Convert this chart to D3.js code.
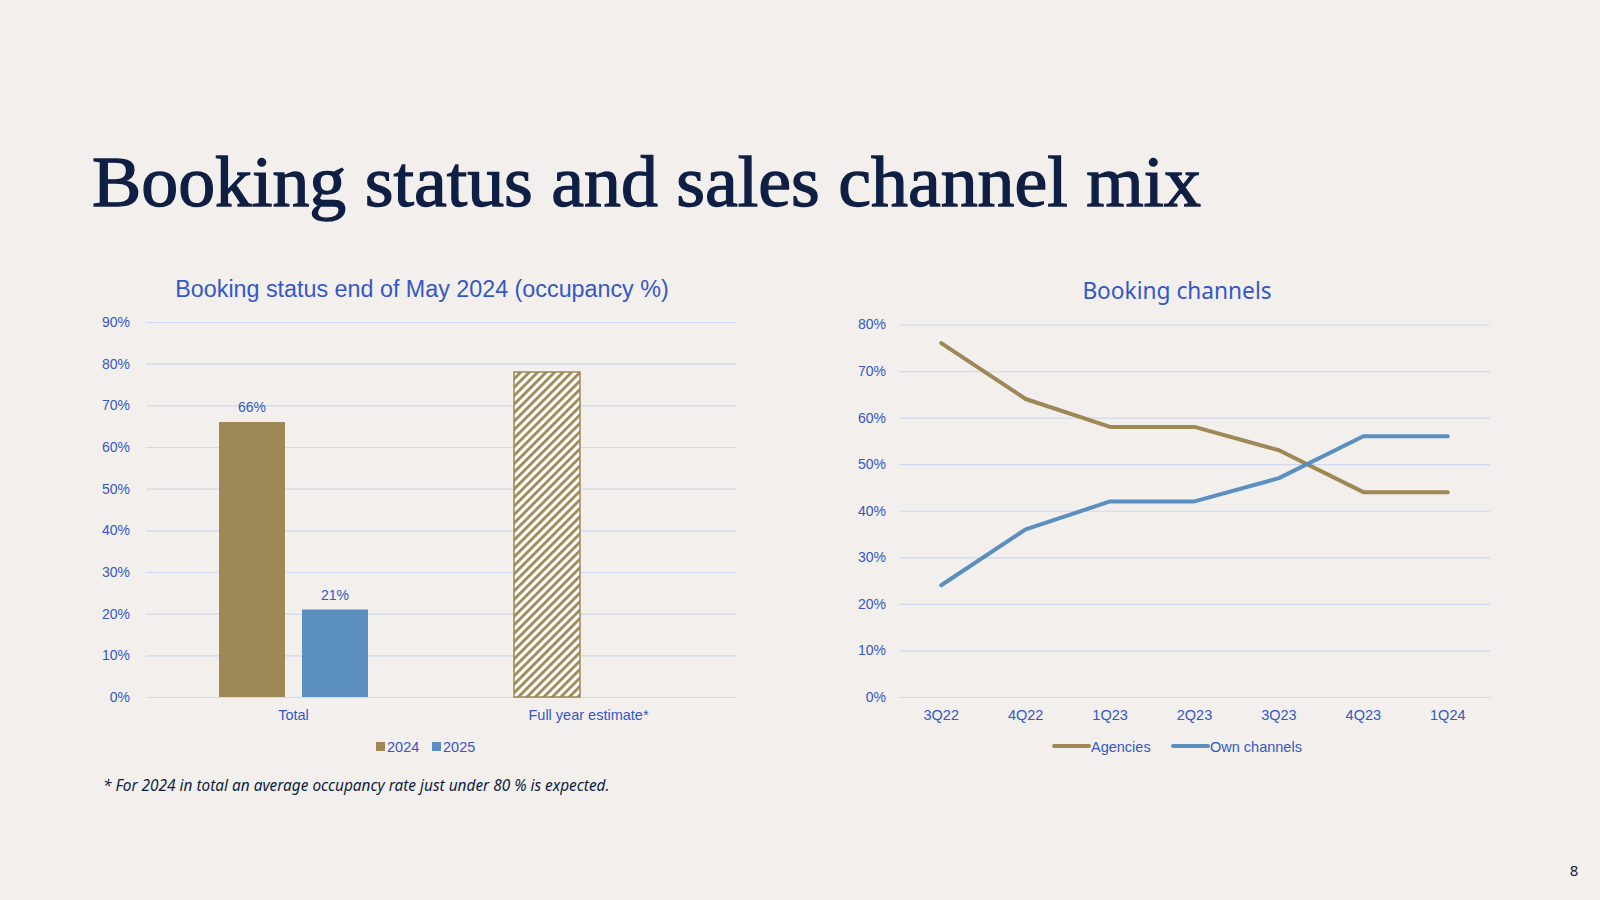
<!DOCTYPE html>
<html>
<head>
<meta charset="utf-8">
<script src="https://cdn.jsdelivr.net/npm/d3@7"></script>
<style>
  html, body { margin: 0; padding: 0; background: #f2efec; }
  svg { display: block; }
</style>
</head>
<body>
<svg id="chart" width="1600" height="900"></svg>
<script>
// ---------- DATA ----------
const barCategories = ["Total", "Full year estimate*"];
const barSeriesNames = ["2024", "2025"];
const bars2024 = [0.66, 0.78];        // FY estimate drawn hatched
const bars2025 = [0.21, null];
const barLabels2024 = ["66%", null];
const barLabels2025 = ["21%", null];
const barTicks = [0, 0.1, 0.2, 0.3, 0.4, 0.5, 0.6, 0.7, 0.8, 0.9];

const quarters = ["3Q22", "4Q22", "1Q23", "2Q23", "3Q23", "4Q23", "1Q24"];
const agencies = [0.76, 0.64, 0.58, 0.58, 0.53, 0.44, 0.44];
const ownChannels = [0.24, 0.36, 0.42, 0.42, 0.47, 0.56, 0.56];
const lineTicks = [0, 0.1, 0.2, 0.3, 0.4, 0.5, 0.6, 0.7, 0.8];

// ---------- STYLE ----------
const BG = "#f2efec";
const GOLD = "#9d8856";
const BLUE = "#5a8fc0";
const TEXT = "#3558c4";
const GRID = "#cfd9ef";
const NAVY = "#0f1f44";
const FONT = "'Liberation Sans', Arial, sans-serif";
const pct = d3.format(".0%");

const svg = d3.select("#chart");
svg.append("rect").attr("width", 1600).attr("height", 900).attr("fill", BG);

// hatch pattern
const defs = svg.append("defs");
const pat = defs.append("pattern")
  .attr("id", "hatch").attr("patternUnits", "userSpaceOnUse")
  .attr("width", 6).attr("height", 6)
  .attr("patternTransform", "rotate(45)");
pat.append("rect").attr("width", 6).attr("height", 6).attr("fill", "#ffffff");
pat.append("rect").attr("width", 2.8).attr("height", 6).attr("fill", GOLD);

// ---------- TITLE ----------
svg.append("text")
  .attr("x", 92).attr("y", 206)
  .attr("font-family", "'Liberation Serif', 'DejaVu Serif', serif")
  .attr("font-size", 72)
  .attr("fill", NAVY).attr("stroke", NAVY).attr("stroke-width", 1.3)
  .attr("textLength", 1109).attr("lengthAdjust", "spacingAndGlyphs")
  .text("Booking status and sales channel mix");

svg.append("text")
  .attr("x", 1574).attr("y", 876)
  .attr("text-anchor", "middle")
  .attr("font-family", "'Noto Sans', sans-serif")
  .attr("font-size", 15).attr("fill", NAVY)
  .text("8");

// ---------- LEFT: BAR CHART ----------
{
  const left = 146, right = 736, top = 322, bottom = 697;
  const y = d3.scaleLinear().domain([0, 0.9]).range([bottom, top]);
  const x0 = d3.scaleBand().domain(barCategories).range([left, right]);
  const x1 = d3.scaleBand().domain(barSeriesNames).range([73, 222]).paddingInner(0.205);

  const g = svg.append("g");
  g.append("text")
    .attr("x", 422).attr("y", 297)
    .attr("text-anchor", "middle")
    .attr("font-family", FONT).attr("font-size", 23.3).attr("fill", TEXT)
    .text("Booking status end of May 2024 (occupancy %)");

  const yAxis = d3.axisLeft(y).tickValues(barTicks).tickFormat(pct)
    .tickSize(-(right - left)).tickPadding(16);
  const ya = g.append("g").attr("transform", `translate(${left},0)`).call(yAxis);
  ya.select(".domain").remove();
  ya.selectAll(".tick line").attr("stroke", GRID).attr("stroke-width", 1.2);
  ya.selectAll(".tick text").attr("font-family", FONT).attr("font-size", 14).attr("fill", TEXT);

  const rows = barCategories.map((c, i) => ({ c, i }));
  // 2024 bars
  g.selectAll("rect.b24").data(rows).join("rect")
    .attr("x", d => x0(d.c) + x1("2024"))
    .attr("y", d => y(bars2024[d.i]))
    .attr("width", x1.bandwidth())
    .attr("height", d => y(0) - y(bars2024[d.i]))
    .attr("fill", d => d.i === 1 ? "url(#hatch)" : GOLD)
    .attr("stroke", d => d.i === 1 ? GOLD : "none")
    .attr("stroke-width", 1.5);
  // 2025 bars
  g.selectAll("rect.b25").data(rows.filter(d => bars2025[d.i] != null)).join("rect")
    .attr("x", d => x0(d.c) + x1("2025"))
    .attr("y", d => y(bars2025[d.i]))
    .attr("width", x1.bandwidth())
    .attr("height", d => y(0) - y(bars2025[d.i]))
    .attr("fill", BLUE);
  // labels
  rows.forEach(d => {
    if (barLabels2024[d.i]) g.append("text")
      .attr("x", x0(d.c) + x1("2024") + x1.bandwidth() / 2)
      .attr("y", y(bars2024[d.i]) - 10)
      .attr("text-anchor", "middle").attr("font-family", FONT).attr("font-size", 14).attr("fill", TEXT)
      .text(barLabels2024[d.i]);
    if (barLabels2025[d.i]) g.append("text")
      .attr("x", x0(d.c) + x1("2025") + x1.bandwidth() / 2)
      .attr("y", y(bars2025[d.i]) - 10)
      .attr("text-anchor", "middle").attr("font-family", FONT).attr("font-size", 14).attr("fill", TEXT)
      .text(barLabels2025[d.i]);
  });

  const xa = g.append("g").attr("transform", `translate(0,${bottom})`)
    .call(d3.axisBottom(x0).tickSize(0).tickPadding(13));
  xa.select(".domain").remove();
  xa.selectAll(".tick text").attr("font-family", FONT).attr("font-size", 14.5).attr("fill", TEXT);

  // legend
  const legItems = [{ n: "2024", c: GOLD, x: 376 }, { n: "2025", c: BLUE, x: 432 }];
  legItems.forEach(it => {
    g.append("rect").attr("x", it.x).attr("y", 742).attr("width", 9).attr("height", 9).attr("fill", it.c);
    g.append("text").attr("x", it.x + 11).attr("y", 752)
      .attr("font-family", FONT).attr("font-size", 14.5).attr("fill", TEXT).text(it.n);
  });

  g.append("text")
    .attr("x", 103).attr("y", 791)
    .attr("font-family", "'Noto Sans', sans-serif").attr("font-style", "italic")
    .attr("font-size", 15.4).attr("fill", NAVY)
    .text("* For 2024 in total an average occupancy rate just under 80 % is expected.");
}

// ---------- RIGHT: LINE CHART ----------
{
  const left = 899, right = 1490, top = 324.5, bottom = 697;
  const y = d3.scaleLinear().domain([0, 0.8]).range([bottom, top]);
  const x = d3.scaleBand().domain(quarters).range([left, right]);
  const cx = q => x(q) + x.bandwidth() / 2;

  const g = svg.append("g");
  g.append("text")
    .attr("x", 1177).attr("y", 299)
    .attr("text-anchor", "middle")
    .attr("font-family", "'Noto Sans', sans-serif").attr("font-size", 22.7).attr("fill", TEXT)
    .text("Booking channels");

  const ya = g.append("g").attr("transform", `translate(${left},0)`)
    .call(d3.axisLeft(y).tickValues(lineTicks).tickFormat(pct).tickSize(-(right - left)).tickPadding(13));
  ya.select(".domain").remove();
  ya.selectAll(".tick line").attr("stroke", GRID).attr("stroke-width", 1.2);
  ya.selectAll(".tick text").attr("font-family", FONT).attr("font-size", 14).attr("fill", TEXT);

  const xa = g.append("g").attr("transform", `translate(0,${bottom})`)
    .call(d3.axisBottom(x).tickSize(0).tickPadding(13));
  xa.select(".domain").remove();
  xa.selectAll(".tick text").attr("font-family", FONT).attr("font-size", 14.5).attr("fill", TEXT);

  const line = d3.line().x((d, i) => cx(quarters[i])).y(d => y(d));
  const series = [
    { name: "Agencies", vals: agencies, color: GOLD },
    { name: "Own channels", vals: ownChannels, color: BLUE }
  ];
  series.forEach(s => {
    g.append("path").datum(s.vals).attr("d", line)
      .attr("fill", "none").attr("stroke", s.color).attr("stroke-width", 4)
      .attr("stroke-linecap", "round").attr("stroke-linejoin", "round");
  });

  const legX = [1054, 1173];
  series.forEach((s, i) => {
    g.append("line").attr("x1", legX[i]).attr("x2", legX[i] + 35).attr("y1", 746).attr("y2", 746)
      .attr("stroke", s.color).attr("stroke-width", 4).attr("stroke-linecap", "round");
    g.append("text").attr("x", legX[i] + 37).attr("y", 752)
      .attr("font-family", FONT).attr("font-size", 14.5).attr("fill", TEXT).text(s.name);
  });
}
</script>
</body>
</html>
